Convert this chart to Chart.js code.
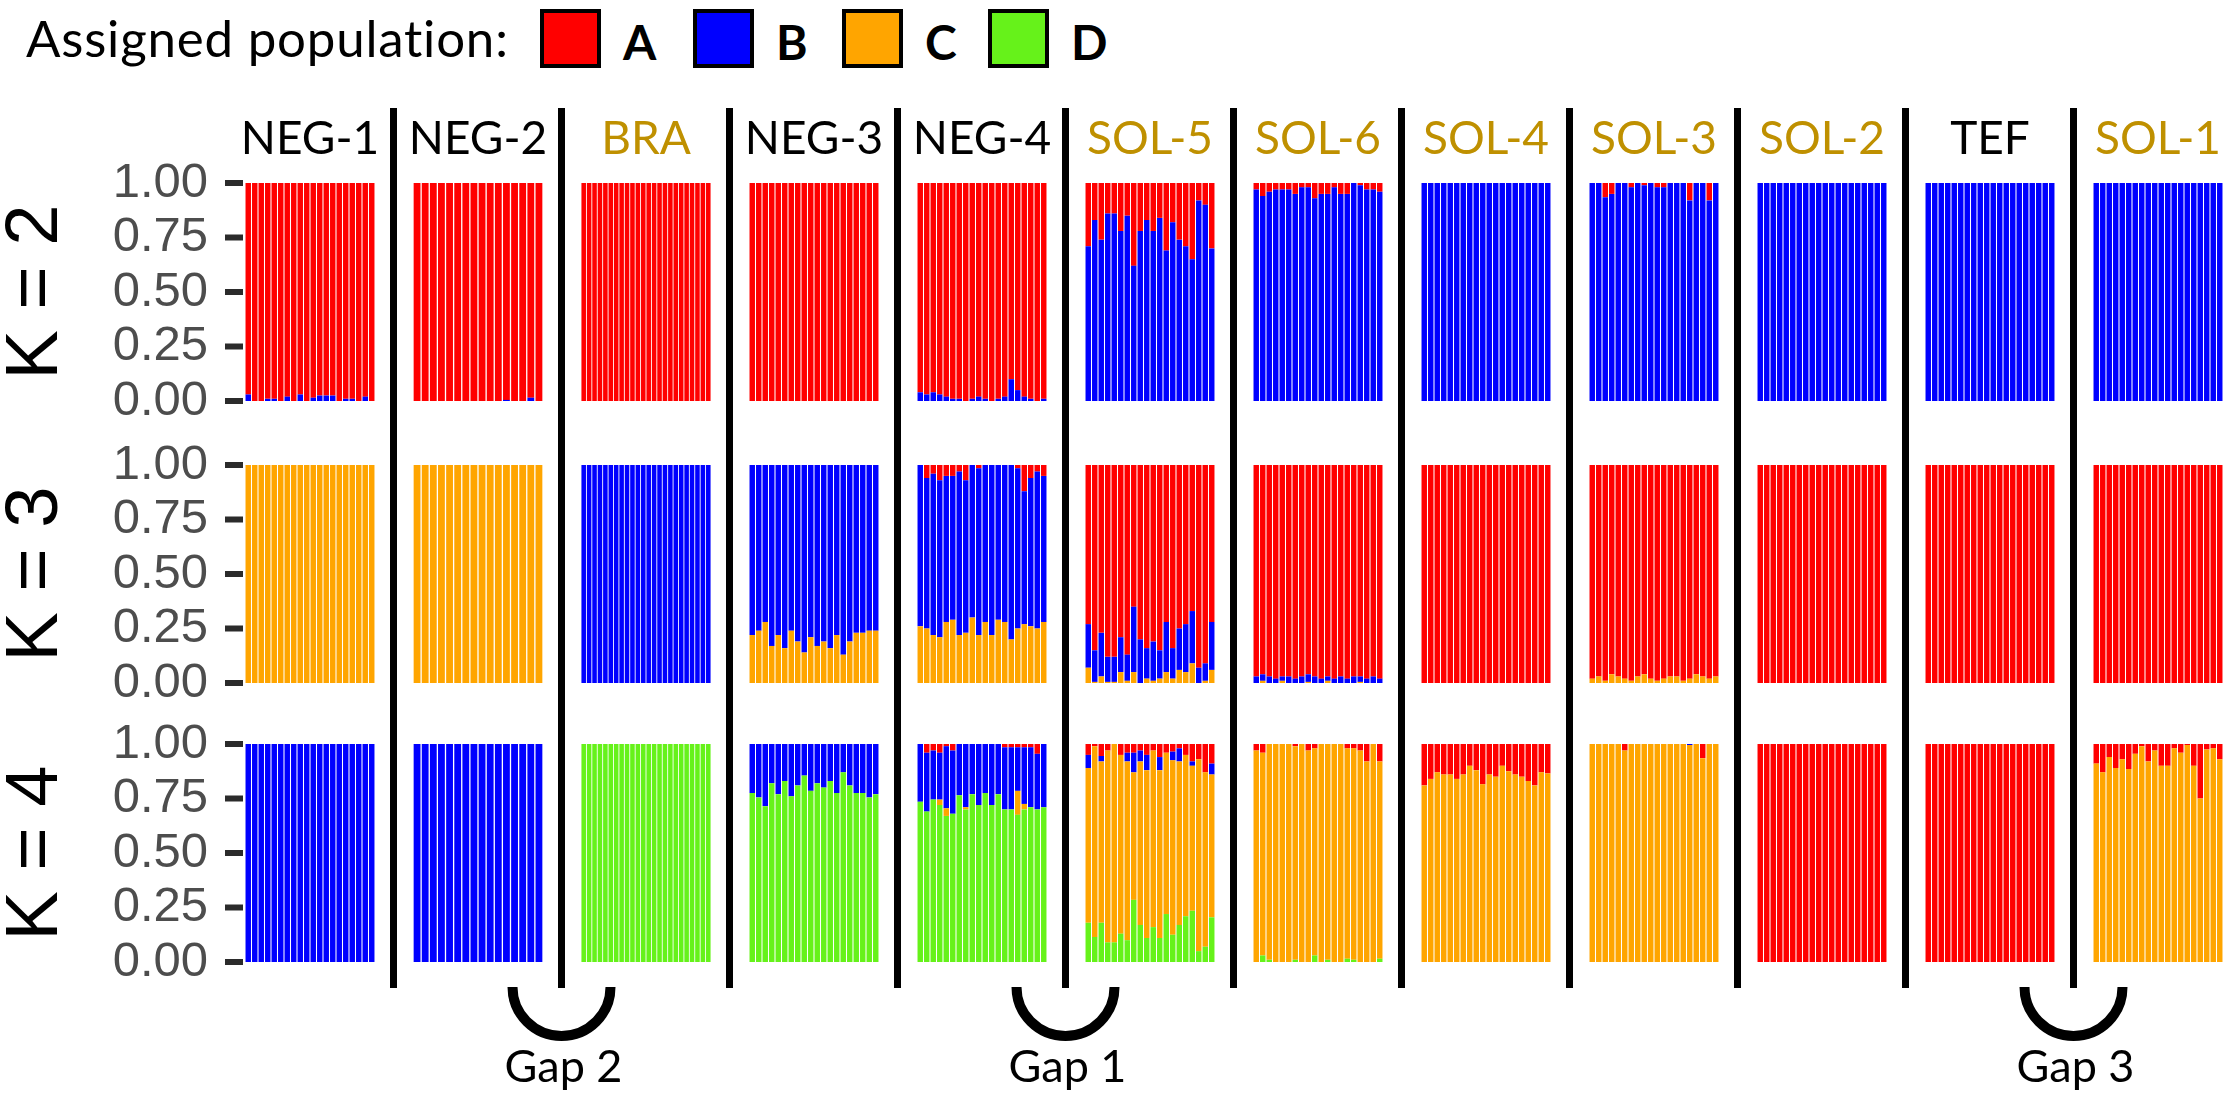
<!DOCTYPE html>
<html>
<head>
<meta charset="utf-8">
<script src="https://cdn.jsdelivr.net/npm/chart.js@4.4.1/dist/chart.umd.min.js"></script>
<style>
  html, body { margin: 0; padding: 0; background: #fff; }
  #fig { position: relative; width: 2228px; height: 1099px; overflow: hidden; font-family: Lato, "Open Sans", sans-serif; }
  #fig canvas { position: absolute; }
  .txt { position: absolute; white-space: nowrap; line-height: 1; }
  .box { position: absolute; box-sizing: border-box; border: 4px solid #000; }
</style>
</head>
<body>
<div id="fig"></div>
<script>
// populations, left to right
const popNames = ['NEG-1', 'NEG-2', 'BRA', 'NEG-3', 'NEG-4', 'SOL-5', 'SOL-6', 'SOL-4', 'SOL-3', 'SOL-2', 'TEF', 'SOL-1'];
const popNameColors = ['#000', '#000', '#bf9000', '#000', '#000', '#bf9000', '#bf9000', '#bf9000', '#bf9000', '#bf9000', '#000', '#bf9000'];
const popSizes = [20, 16, 24, 20, 20, 20, 20, 20, 20, 20, 20, 20];

const clusterNames = ['A', 'B', 'C', 'D'];
const clusterColors = ['#ff0000', '#0000ff', '#ffa500', '#66f21a'];
const kValues = [2, 3, 4];
const yTickLabels = ['0.00', '0.25', '0.50', '0.75', '1.00'];
const gapLabels = ['Gap 2', 'Gap 1', 'Gap 3'];
const gapAfterPop = [1, 4, 10];

// K = 2 : top of B (blue) for each individual, A (red) fills up to 1
const k2TopB = [
  [0.03,0,0,0.01,0.01,0,0.02,0,0.03,0,0.015,0.025,0.025,0.025,0,0.01,0.01,0,0.02,0],
  [0,0,0,0,0,0,0,0,0,0,0,0.005,0,0,0.015,0],
  [0,0,0,0,0,0,0,0,0,0,0,0,0,0,0,0,0,0,0,0,0,0,0,0],
  [0,0,0,0,0,0,0,0,0,0,0,0,0,0,0,0,0,0,0,0],
  [0.04,0.03,0.04,0.03,0.02,0.01,0.01,0,0.01,0.02,0.01,0,0.01,0.02,0.10,0.05,0.02,0.01,0,0.01],
  [0.71,0.83,0.74,0.86,0.86,0.78,0.85,0.62,0.78,0.83,0.78,0.84,0.69,0.82,0.74,0.71,0.65,0.92,0.90,0.70],
  [0.97,0.94,0.96,0.97,0.97,0.97,0.95,0.98,0.98,0.93,0.95,0.95,0.98,0.95,0.95,1,0.99,0.97,0.97,0.96],
  [1,1,1,1,1,1,1,1,1,1,1,1,1,1,1,1,1,1,1,1],
  [1,1,0.935,0.95,1,1,0.98,1,0.99,1,0.98,0.98,1,1,1,0.92,1,1,0.92,1],
  [1,1,1,1,1,1,1,1,1,1,1,1,1,1,1,1,1,1,1,1],
  [1,1,1,1,1,1,1,1,1,1,1,1,1,1,1,1,1,1,1,1],
  [1,1,1,1,1,1,1,1,1,1,1,1,1,1,1,1,1,1,1,1]
];

// K = 3 : top of C (orange), top of B (blue); A fills up to 1
const k3TopC = [
  [1,1,1,1,1,1,1,1,1,1,1,1,1,1,1,1,1,1,1,1],
  [1,1,1,1,1,1,1,1,1,1,1,1,1,1,1,1],
  [0,0,0,0,0,0,0,0,0,0,0,0,0,0,0,0,0,0,0,0,0,0,0,0],
  [0.22,0.24,0.28,0.17,0.22,0.16,0.24,0.19,0.14,0.21,0.17,0.19,0.16,0.22,0.13,0.19,0.23,0.23,0.24,0.24],
  [0.26,0.25,0.22,0.21,0.28,0.29,0.22,0.23,0.30,0.22,0.28,0.22,0.29,0.28,0.20,0.25,0.27,0.26,0.25,0.28],
  [0.07,0.005,0.03,0.005,0.005,0.05,0.01,0.05,0,0.02,0.01,0.02,0.05,0.02,0.06,0.05,0.09,0,0.01,0.06],
  [0,0.01,0,0,0.01,0,0,0,0.005,0,0,0.01,0,0,0,0,0.005,0,0,0],
  [0,0,0,0,0,0,0,0,0,0,0,0,0,0,0,0,0,0,0,0],
  [0.02,0.03,0.01,0.04,0.03,0.02,0.01,0.03,0.04,0.02,0.01,0.02,0.03,0.03,0.01,0.02,0.04,0.03,0.02,0.03],
  [0,0,0,0,0,0,0,0,0,0,0,0,0,0,0,0,0,0,0,0],
  [0,0,0,0,0,0,0,0,0,0,0,0,0,0,0,0,0,0,0,0],
  [0,0,0,0,0,0,0,0,0,0,0,0,0,0,0,0,0,0,0,0]
];
const k3TopB = [
  [1,1,1,1,1,1,1,1,1,1,1,1,1,1,1,1,1,1,1,1],
  [1,1,1,1,1,1,1,1,1,1,1,1,1,1,1,1],
  [1,1,1,1,1,1,1,1,1,1,1,1,1,1,1,1,1,1,1,1,1,1,1,1],
  [1,1,1,1,1,1,1,1,1,1,1,1,1,1,1,1,1,1,1,1],
  [1,0.94,0.96,0.93,0.95,0.95,0.97,0.93,1,0.985,1,1,1,1,1,0.985,0.88,0.94,0.97,0.95],
  [0.27,0.15,0.23,0.12,0.12,0.21,0.13,0.35,0.20,0.16,0.19,0.15,0.28,0.16,0.25,0.27,0.33,0.07,0.09,0.28],
  [0.03,0.04,0.03,0.02,0.03,0.03,0.02,0.03,0.04,0.03,0.02,0.03,0.02,0.03,0.02,0.03,0.03,0.02,0.03,0.02],
  [0,0,0,0,0,0,0,0,0,0,0,0,0,0,0,0,0,0,0,0],
  [0.02,0.03,0.01,0.04,0.03,0.02,0.01,0.03,0.04,0.02,0.01,0.02,0.03,0.03,0.01,0.02,0.04,0.03,0.02,0.03],
  [0,0,0,0,0,0,0,0,0,0,0,0,0,0,0,0,0,0,0,0],
  [0,0,0,0,0,0,0,0,0,0,0,0,0,0,0,0,0,0,0,0],
  [0,0,0,0,0,0,0,0,0,0,0,0,0,0,0,0,0,0,0,0]
];

// K = 4 : top of D (green), top of C (orange), top of B (blue); A fills up to 1
const k4TopD = [
  [0,0,0,0,0,0,0,0,0,0,0,0,0,0,0,0,0,0,0,0],
  [0,0,0,0,0,0,0,0,0,0,0,0,0,0,0,0],
  [1,1,1,1,1,1,1,1,1,1,1,1,1,1,1,1,1,1,1,1,1,1,1,1],
  [0.775,0.755,0.715,0.82,0.77,0.83,0.76,0.81,0.855,0.785,0.82,0.80,0.83,0.775,0.87,0.81,0.775,0.775,0.755,0.77],
  [0.735,0.69,0.745,0.72,0.67,0.68,0.765,0.70,0.77,0.72,0.775,0.72,0.77,0.70,0.70,0.675,0.70,0.71,0.70,0.71],
  [0.18,0.115,0.18,0.09,0.09,0.13,0.10,0.285,0.17,0.11,0.16,0.11,0.22,0.125,0.17,0.21,0.235,0.05,0.07,0.205],
  [0,0.03,0.01,0,0,0,0.01,0,0,0.03,0,0.01,0,0,0.015,0.01,0,0,0,0.015],
  [0,0,0,0,0,0,0,0,0,0,0,0,0,0,0,0,0,0,0,0],
  [0,0,0,0,0,0,0,0,0,0,0,0,0,0,0,0,0,0,0,0],
  [0,0,0,0,0,0,0,0,0,0,0,0,0,0,0,0,0,0,0,0],
  [0,0,0,0,0,0,0,0,0,0,0,0,0,0,0,0,0,0,0,0],
  [0,0,0,0,0,0,0,0,0,0,0,0,0,0,0,0,0,0,0,0]
];
const k4TopC = [
  [0,0,0,0,0,0,0,0,0,0,0,0,0,0,0,0,0,0,0,0],
  [0,0,0,0,0,0,0,0,0,0,0,0,0,0,0,0],
  [1,1,1,1,1,1,1,1,1,1,1,1,1,1,1,1,1,1,1,1,1,1,1,1],
  [0.775,0.755,0.715,0.82,0.77,0.83,0.76,0.81,0.855,0.785,0.82,0.80,0.83,0.775,0.87,0.81,0.775,0.775,0.755,0.77],
  [0.735,0.69,0.745,0.745,0.705,0.68,0.765,0.71,0.77,0.72,0.775,0.72,0.77,0.70,0.70,0.785,0.725,0.71,0.70,0.71],
  [0.89,0.99,0.92,0.97,1,0.95,0.92,0.87,0.92,0.88,0.97,0.88,0.96,0.925,0.92,0.95,0.90,0.93,0.87,0.86],
  [0.97,0.96,1,1,1,1,0.99,1,0.97,0.98,1,1,1,1,0.98,0.98,0.97,0.92,1,0.92],
  [0.81,0.84,0.87,0.86,0.86,0.84,0.86,0.90,0.88,0.815,0.86,0.85,0.90,0.875,0.86,0.85,0.83,0.81,0.87,0.865],
  [1,1,1,1,1,0.97,1,1,1,1,1,1,1,1,1,0.995,1,0.935,1,1],
  [0,0,0,0,0,0,0,0,0,0,0,0,0,0,0,0,0,0,0,0],
  [0,0,0,0,0,0,0,0,0,0,0,0,0,0,0,0,0,0,0,0],
  [0.91,0.87,0.94,0.89,0.93,0.885,0.955,0.99,0.92,0.97,0.90,0.90,0.98,0.96,0.995,0.90,0.75,0.975,0.98,0.93]
];
const k4TopB = [
  [1,1,1,1,1,1,1,1,1,1,1,1,1,1,1,1,1,1,1,1],
  [1,1,1,1,1,1,1,1,1,1,1,1,1,1,1,1],
  [1,1,1,1,1,1,1,1,1,1,1,1,1,1,1,1,1,1,1,1,1,1,1,1],
  [1,1,1,1,1,1,1,1,1,1,1,1,1,1,1,1,1,1,1,1],
  [1,0.96,0.97,0.96,0.99,0.97,1,1,1,1,1,1,1,0.985,0.985,0.985,0.985,0.985,0.955,1],
  [0.95,0.99,0.945,0.97,1,0.95,0.96,0.96,0.97,0.95,0.97,0.94,0.96,0.965,0.98,0.95,0.92,0.93,0.87,0.91],
  [0.97,0.96,1,1,1,1,0.99,1,0.97,0.98,1,1,1,1,0.98,0.98,0.97,0.92,1,0.92],
  [0.81,0.84,0.87,0.86,0.86,0.84,0.86,0.90,0.88,0.815,0.86,0.85,0.90,0.875,0.86,0.85,0.83,0.81,0.87,0.865],
  [1,1,1,1,1,0.97,1,1,1,1,1,1,1,1,1,1,1,0.935,1,1],
  [0,0,0,0,0,0,0,0,0,0,0,0,0,0,0,0,0,0,0,0],
  [0,0,0,0,0,0,0,0,0,0,0,0,0,0,0,0,0,0,0,0],
  [0.91,0.87,0.94,0.89,0.93,0.885,0.955,0.99,0.92,0.97,0.90,0.90,0.98,0.96,0.995,0.90,0.75,0.975,0.98,0.93]
];

// boundaries and cluster order (bottom -> top) for each K row
const rowBounds = [[k2TopB], [k3TopC, k3TopB], [k4TopD, k4TopC, k4TopB]];
const rowClusters = [[1, 0], [2, 1, 0], [3, 2, 1, 0]];

// layout (px)
const PANEL_X0 = 245, PANEL_STEP = 168, PANEL_W = 130;
const ROW_TOPS = [183, 465, 744], ROW_H = 218, PAD = 56;
const TICK_LEN = 18;

const fig = document.getElementById('fig');
const tickMarkPos = [];   // filled from the y scales of the first column

function addText(text, x, y, size, color, opts) {
  const d = document.createElement('div');
  d.className = 'txt';
  d.textContent = text;
  d.style.left = x + 'px';
  d.style.top = y + 'px';
  d.style.fontSize = size + 'px';
  d.style.color = color;
  if (opts && opts.center) d.style.transform = 'translateX(-50%)';
  if (opts && opts.bold) d.style.fontWeight = 'bold';
  if (opts && opts.spacing) d.style.letterSpacing = opts.spacing + 'px';
  fig.appendChild(d);
}

function makePanel(r, p) {
  const first = p === 0;
  const x0 = PANEL_X0 + p * PANEL_STEP;
  const left = first ? 0 : x0;
  const w = x0 + PANEL_W - left;
  const h = ROW_H + 2 * PAD;
  const top = ROW_TOPS[r] - PAD;
  const canvas = document.createElement('canvas');
  canvas.width = w; canvas.height = h;
  canvas.style.left = left + 'px';
  canvas.style.top = top + 'px';
  canvas.style.width = w + 'px';
  canvas.style.height = h + 'px';
  fig.appendChild(canvas);

  const n = popSizes[p];
  const bounds = rowBounds[r];
  const clusters = rowClusters[r];
  const labels = Array.from({ length: n }, (_, i) => i + 1);
  const datasets = clusters.map((c, j) => ({
    label: clusterNames[c],
    data: labels.map((_, i) => [
      j === 0 ? 0 : bounds[j - 1][p][i],
      j === bounds.length ? 1 : bounds[j][p][i]
    ]),
    backgroundColor: clusterColors[c],
    borderWidth: 0,
    grouped: false,
    barPercentage: 0.84,
    categoryPercentage: 1
  }));

  const yAxis = {
    display: first,
    min: 0,
    max: 1,
    border: { display: false },
    grid: { display: false, drawTicks: true, tickLength: TICK_LEN },
    ticks: {
      stepSize: 0.25,
      autoSkip: false,
      padding: 19,
      color: '#4d4d4d',
      font: { family: 'Liberation Sans', size: 49 },
      callback: function(v, i) { return yTickLabels[i]; }
    },
    title: {
      display: first,
      text: 'K = ' + kValues[r],
      color: '#000',
      font: { family: 'Liberation Sans', size: 74, lineHeight: 1 },
      padding: { top: 0, bottom: 0 }
    }
  };
  if (first) yAxis.afterFit = function(scale) { scale.width = PANEL_X0; };

  const chart = new Chart(canvas, {
    type: 'bar',
    data: { labels: labels, datasets: datasets },
    options: {
      responsive: false,
      animation: false,
      events: [],
      layout: { padding: { top: PAD, bottom: PAD, left: 0, right: 0 } },
      plugins: { legend: { display: false }, tooltip: { enabled: false } },
      scales: { x: { display: false }, y: yAxis }
    }
  });

  if (first) {
    const ys = chart.scales.y;
    ys.ticks.forEach(t => {
      tickMarkPos.push({ x: left + chart.chartArea.left - 2, y: top + ys.getPixelForValue(t.value) });
    });
  }
}

for (let r = 0; r < kValues.length; r++) {
  for (let p = 0; p < popNames.length; p++) makePanel(r, p);
}

// panel titles
popNames.forEach((name, p) => {
  addText(name, PANEL_X0 + p * PANEL_STEP + PANEL_W / 2, 114, 46, popNameColors[p], { center: true });
});

// legend
addText('Assigned population:', 26, 12, 51, '#000', { spacing: 0.8 });
const legendBoxX = [540, 693, 842, 988];
clusterNames.forEach((c, i) => {
  const b = document.createElement('div');
  b.className = 'box';
  b.style.left = legendBoxX[i] + 'px';
  b.style.top = '9px';
  b.style.width = '61px';
  b.style.height = '59px';
  b.style.background = clusterColors[i];
  fig.appendChild(b);
  addText(c, legendBoxX[i] + 83, 18, 48, '#000', { bold: true });
});

// separators, gap arcs and axis tick marks
const ns = 'http://www.w3.org/2000/svg';
const svg = document.createElementNS(ns, 'svg');
svg.setAttribute('width', 2228);
svg.setAttribute('height', 1099);
svg.style.position = 'absolute';
svg.style.left = '0px';
svg.style.top = '0px';
fig.appendChild(svg);

function svgLine(x1, y1, x2, y2, color, width) {
  const ln = document.createElementNS(ns, 'line');
  ln.setAttribute('x1', x1); ln.setAttribute('y1', y1);
  ln.setAttribute('x2', x2); ln.setAttribute('y2', y2);
  ln.setAttribute('stroke', color); ln.setAttribute('stroke-width', width);
  svg.appendChild(ln);
}

for (let p = 0; p < popNames.length - 1; p++) {
  const x = PANEL_X0 + p * PANEL_STEP + PANEL_W + (PANEL_STEP - PANEL_W) / 2 - 0.5;
  svgLine(x, 108, x, 988, '#000', 7);
}
tickMarkPos.forEach(t => svgLine(t.x - TICK_LEN, t.y, t.x, t.y, '#2b2b2b', 6));

gapAfterPop.forEach((p, i) => {
  const cx = PANEL_X0 + p * PANEL_STEP + PANEL_W + (PANEL_STEP - PANEL_W) / 2 - 0.5;
  const cy = 987, rr = 49;
  const path = document.createElementNS(ns, 'path');
  path.setAttribute('d', 'M ' + (cx - rr) + ' ' + cy + ' A ' + rr + ' ' + rr + ' 0 0 0 ' + (cx + rr) + ' ' + cy);
  path.setAttribute('fill', 'none');
  path.setAttribute('stroke', '#000');
  path.setAttribute('stroke-width', 10);
  svg.appendChild(path);
  addText(gapLabels[i], cx + 2, 1043, 45, '#000', { center: true });
});
</script>
</body>
</html>
